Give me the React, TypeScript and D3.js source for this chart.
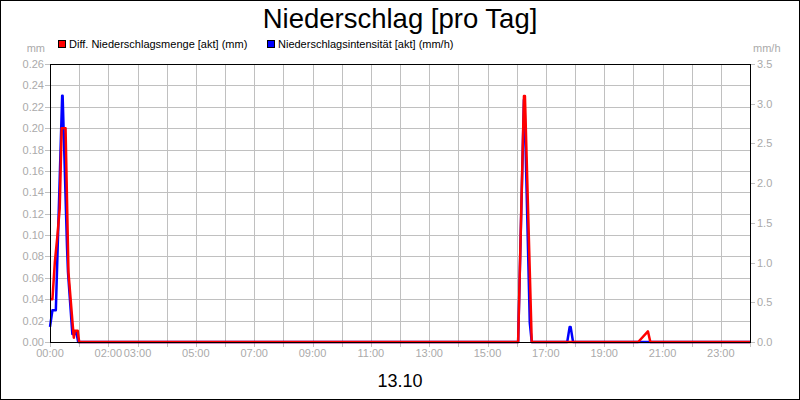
import React from "react";
import * as d3 from "d3";

const title = "Niederschlag [pro Tag]";
const dateLabel = "13.10";
const seriesNames = ["Diff. Niederschlagsmenge [akt] (mm)", "Niederschlagsintensität [akt] (mm/h)"];
const seriesColors = ["#ff0000", "#0000ff"];
const leftUnit = "mm";
const rightUnit = "mm/h";

const amountTimes = ["00:00","00:05","00:10","00:15","00:20","00:24","00:32","00:38","00:46","00:49","00:51","00:57","01:00","16:03","16:15","16:17","16:31","20:10","20:30","20:35","24:00"];
const amountValues = [0.04,0.04,0.075,0.098,0.125,0.20,0.20,0.065,0.02,0.004,0.0105,0.0105,0,0,0.23,0.23,0,0,0.01,0,0];

const intensityTimes = ["00:00","00:05","00:12","00:25","00:26","00:35","00:37","00:46","00:52","00:54","00:58","16:03","16:15","16:16","16:27","16:31","17:44","17:49","17:51","17:56","24:00"];
const intensityValues = [0.19,0.40,0.40,3.10,3.10,1.2,0.88,0.1,0.1,0.13,0,0,3.05,3.05,0.24,0,0,0.19,0.19,0,0];

const leftTicks = [0,0.02,0.04,0.06,0.08,0.10,0.12,0.14,0.16,0.18,0.20,0.22,0.24,0.26];
const rightTicks = [0,0.5,1.0,1.5,2.0,2.5,3.0,3.5];
const hourLabels = [0,2,3,5,7,9,11,13,15,17,19,21,23];

const W = 800, H = 400;
const M = { left: 50, right: 750, top: 64, bottom: 342 };
const font = "Arial, 'Liberation Sans', sans-serif";
const labelColor = "#aaaaaa";
const gridColor = "#c0c0c0";

const toMin = (s: string) => {
  const [h, m] = s.split(":").map(Number);
  return h * 60 + m;
};

export default function App() {
  const x = d3.scaleLinear().domain([0, 1440]).range([M.left, M.right]);
  const yL = d3.scaleLinear().domain([0, 0.26]).range([M.bottom, M.top]);
  const yR = d3.scaleLinear().domain([0, 3.5]).range([M.bottom, M.top]);
  const hours = d3.range(0, 25);

  const amountLine = d3.line<number>()
    .x((_, i) => x(toMin(amountTimes[i])))
    .y((d) => yL(d))(amountValues) || "";
  const intensityLine = d3.line<number>()
    .x((_, i) => x(toMin(intensityTimes[i])))
    .y((d) => yR(d))(intensityValues) || "";

  return (
    <svg width={W} height={H} style={{ position: "absolute", left: 0, top: 0, background: "#fff" }} fontFamily={font}>
      <rect x={0.5} y={0.5} width={W - 1} height={H - 1} fill="#fff" stroke="#000" />
      <text x={400} y={28} textAnchor="middle" fontSize={27.5} fill="#000">{title}</text>

      {/* legend */}
      <rect x={58.5} y={40.5} width={7} height={7} fill={seriesColors[0]} stroke="#000" />
      <text x={69} y={48} fontSize={11} fill="#000">{seriesNames[0]}</text>
      <rect x={267.5} y={40.5} width={7} height={7} fill={seriesColors[1]} stroke="#000" />
      <text x={278} y={48} fontSize={11} fill="#000">{seriesNames[1]}</text>

      <text x={45} y={52} textAnchor="end" fontSize={11} fill={labelColor}>{leftUnit}</text>
      <text x={753} y={52} fontSize={11} fill={labelColor}>{rightUnit}</text>

      {/* grid */}
      {leftTicks.map((t) => (
        <line key={"h" + t} x1={M.left} x2={M.right} y1={Math.round(yL(t)) + 0.5} y2={Math.round(yL(t)) + 0.5} stroke={gridColor} />
      ))}
      {hours.map((h) => (
        <line key={"v" + h} x1={Math.round(x(h * 60)) + 0.5} x2={Math.round(x(h * 60)) + 0.5} y1={M.top} y2={M.bottom} stroke={gridColor} />
      ))}

      {/* left axis ticks */}
      {leftTicks.map((t) => (
        <g key={"lt" + t}>
          <line x1={M.left - 5} x2={M.left} y1={Math.round(yL(t)) + 0.5} y2={Math.round(yL(t)) + 0.5} stroke={gridColor} />
          <text x={M.left - 6} y={yL(t) + 4} textAnchor="end" fontSize={11} fill={labelColor}>{t.toFixed(2)}</text>
        </g>
      ))}
      {/* right axis ticks */}
      {rightTicks.map((t) => (
        <g key={"rt" + t}>
          <line x1={M.right} x2={M.right + 5} y1={Math.round(yR(t)) + 0.5} y2={Math.round(yR(t)) + 0.5} stroke={gridColor} />
          <text x={M.right + 7} y={yR(t) + 4} fontSize={11} fill={labelColor}>{t.toFixed(1)}</text>
        </g>
      ))}
      {/* bottom ticks */}
      {hours.map((h) => (
        <line key={"bt" + h} x1={Math.round(x(h * 60)) + 0.5} x2={Math.round(x(h * 60)) + 0.5} y1={M.bottom} y2={M.bottom + 5} stroke={gridColor} />
      ))}
      {hourLabels.map((h) => (
        <text key={"bl" + h} x={x(h * 60)} y={357} textAnchor="middle" fontSize={11} fill={labelColor}>
          {String(h).padStart(2, "0") + ":00"}
        </text>
      ))}

      {/* series */}
      <path d={intensityLine} fill="none" stroke={seriesColors[1]} strokeWidth={2.5} strokeLinejoin="round" />
      <path d={amountLine} fill="none" stroke={seriesColors[0]} strokeWidth={2.5} strokeLinejoin="round" />

      {/* frame */}
      <rect x={M.left + 0.5} y={M.top + 0.5} width={M.right - M.left} height={M.bottom - M.top} fill="none" stroke="#000" />

      <text x={400} y={387} textAnchor="middle" fontSize={18} fill="#000">{dateLabel}</text>
    </svg>
  );
}
